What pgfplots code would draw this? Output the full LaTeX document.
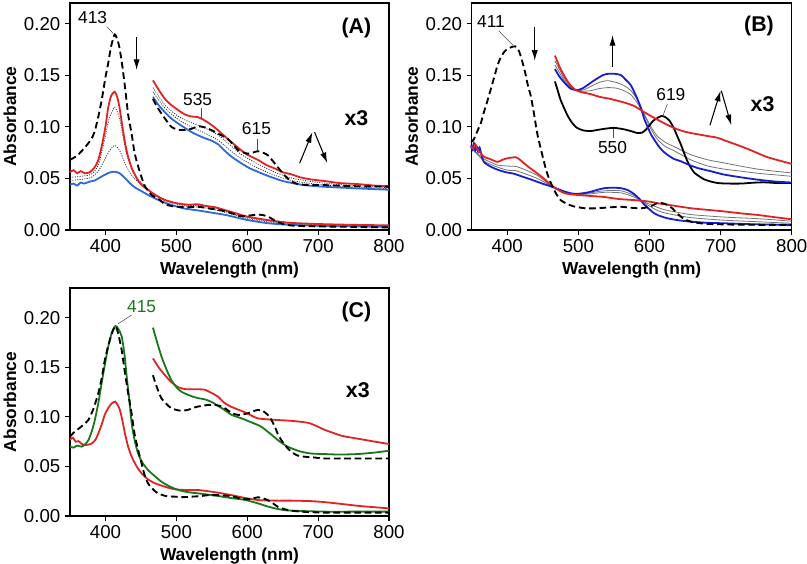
\documentclass[border=0pt]{standalone}
\usepackage{fontspec}
\setmainfont{Liberation Sans}
\usepackage{pgfplots}
\pgfplotsset{compat=1.18}
\usetikzlibrary{arrows.meta}
\definecolor{ared}{RGB}{225,35,35}
\definecolor{ablue}{RGB}{45,105,215}
\definecolor{bblue}{RGB}{25,30,205}
\definecolor{cgreen}{RGB}{25,120,25}
\newcommand{\tf}{\fontsize{13}{15}\selectfont}
\newcommand{\tkf}{\fontsize{14}{16}\selectfont}
\newcommand{\bigf}{\fontsize{16}{18}\selectfont\bfseries}
\tikzset{
  lead/.style={black!70, line width=0.4pt},
  arr/.style={-{Latex[length=8pt,width=4.6pt]}, line width=0.8pt},
}
\pgfplotsset{
  panel/.style={scale only axis, width=239.25pt, height=170.25pt,
    xmin=350, xmax=800, ymin=0, ymax=0.22,
    xtick={400,500,600,700,800}, ytick={0,0.05,0.10,0.15,0.20},
    tick align=outside, xtick pos=bottom, ytick pos=left,
    major tick length=3.75pt, axis line style={line width=0.9pt},
    tick style={line width=0.8pt, black},
    /pgf/number format/assume math mode=true,
    ticklabel style={font=\tkf},
    yticklabel style={/pgf/number format/fixed, /pgf/number format/fixed zerofill, /pgf/number format/precision=2},
    xticklabel style={/pgf/number format/1000 sep={}},
    xlabel={\tf\bfseries Wavelength (nm)}, ylabel={\tf\bfseries Absorbance},
    xlabel style={at={(axis description cs:0.5,0)}, anchor=center, yshift=-30pt},
    ylabel style={at={(axis description cs:-0.188,0.5)}, anchor=center},
    clip=false, anchor=south west},
  every axis plot/.append style={smooth, tension=0.4, no markers},
  sred/.style={ared, line width=1.35pt},
  sblue/.style={ablue, line width=1.35pt},
  sbblue/.style={bblue, line width=1.35pt},
  sgreen/.style={cgreen, line width=1.35pt},
  sdash/.style={black, line width=1.4pt, dash pattern=on 5pt off 2.8pt},
  sdot/.style={black!85, line width=0.55pt, dash pattern=on 0.8pt off 1pt},
  sgray/.style={black!55, line width=0.6pt},
}
\begin{document}
\begin{tikzpicture}
\path[use as bounding box] (0,0) rectangle (605.25pt,423pt);
% ---------------- (A)
\begin{axis}[panel, at={(52.5pt,250.5pt)}]
\addplot[sdot] coordinates {(350,0.051)(365,0.052)(380,0.054)(390,0.063)(398,0.085)(405,0.107)(413,0.119)(420,0.108)(425,0.090)(430,0.073)(437,0.060)(445,0.050)(455,0.043)(465,0.037)(480,0.031)(495,0.027)(515,0.024)(535,0.0235)(555,0.021)(575,0.017)(600,0.012)(630,0.0088)(660,0.0065)(700,0.0052)(800,0.004)};
\addplot[sdot] coordinates {(350,0.048)(365,0.049)(380,0.051)(390,0.057)(398,0.067)(405,0.076)(413,0.082)(420,0.077)(425,0.069)(430,0.061)(437,0.053)(445,0.047)(455,0.041)(465,0.036)(480,0.030)(495,0.026)(515,0.023)(535,0.022)(555,0.0195)(575,0.016)(600,0.011)(630,0.0078)(660,0.0058)(700,0.0046)(800,0.0035)};
\addplot[sdot] coordinates {(467,0.138)(484,0.121)(503,0.110)(521,0.104)(540,0.099)(559,0.092)(578,0.081)(592,0.073)(615,0.064)(639,0.056)(662,0.0505)(690,0.047)(730,0.044)(800,0.041)};
\addplot[sdot] coordinates {(467,0.134)(484,0.118)(503,0.107)(521,0.100)(540,0.094)(559,0.087)(578,0.076)(592,0.069)(615,0.060)(639,0.053)(662,0.048)(690,0.045)(730,0.0425)(800,0.040)};
\addplot[sblue] coordinates {(350,0.044)(355,0.045)(360,0.043)(365,0.046)(370,0.045)(378,0.047)(385,0.048)(395,0.052)(405,0.0555)(413,0.0565)(420,0.055)(428,0.050)(435,0.045)(442,0.041)(450,0.038)(460,0.034)(475,0.029)(490,0.025)(510,0.021)(530,0.019)(550,0.0168)(570,0.0145)(600,0.0097)(630,0.0065)(660,0.005)(700,0.004)(750,0.0035)(800,0.003)};
\addplot[sblue] coordinates {(467,0.129)(475,0.121)(484,0.114)(493,0.108)(503,0.103)(512,0.099)(521,0.095)(530,0.092)(540,0.089)(550,0.0865)(559,0.083)(568,0.077)(578,0.071)(592,0.0645)(603,0.060)(615,0.0564)(627,0.053)(639,0.050)(650,0.0475)(662,0.0457)(680,0.0435)(709,0.0419)(756,0.0403)(800,0.039)};
\addplot[sred] coordinates {(350,0.056)(355,0.058)(360,0.055)(365,0.057)(371,0.055)(378,0.056)(385,0.061)(390,0.068)(395,0.082)(400,0.100)(404,0.119)(408,0.130)(413,0.134)(417,0.128)(420,0.118)(424,0.100)(428,0.083)(432,0.071)(437,0.060)(442,0.053)(446,0.048)(452,0.043)(460,0.039)(470,0.034)(484,0.029)(500,0.026)(517,0.0245)(530,0.025)(540,0.0235)(555,0.022)(570,0.019)(585,0.016)(600,0.013)(630,0.0095)(660,0.007)(700,0.0058)(750,0.005)(800,0.0045)};
\addplot[sred] coordinates {(467,0.145)(475,0.136)(484,0.127)(493,0.121)(503,0.116)(512,0.112)(521,0.110)(530,0.1095)(538,0.107)(545,0.104)(553,0.100)(560,0.096)(568,0.091)(578,0.085)(585,0.081)(592,0.077)(600,0.073)(615,0.068)(627,0.063)(639,0.0596)(650,0.056)(662,0.054)(675,0.051)(690,0.049)(709,0.0475)(730,0.0455)(756,0.0445)(780,0.043)(800,0.0425)};
\addplot[sdash] coordinates {(350,0.068)(360,0.072)(371,0.080)(380,0.088)(385,0.096)(390,0.110)(395,0.127)(400,0.148)(404,0.162)(408,0.178)(413,0.1895)(417,0.184)(420,0.176)(424,0.158)(428,0.136)(432,0.112)(437,0.093)(441,0.075)(446,0.062)(451,0.051)(456,0.042)(465,0.034)(475,0.030)(484,0.025)(495,0.023)(503,0.0225)(515,0.022)(531,0.0225)(545,0.021)(560,0.0195)(575,0.017)(590,0.0135)(603,0.014)(612,0.0148)(622,0.0145)(632,0.012)(642,0.008)(655,0.005)(670,0.004)(700,0.0035)(750,0.003)(800,0.0025)};
\addplot[sdash] coordinates {(467,0.127)(474,0.118)(484,0.108)(493,0.100)(503,0.097)(512,0.097)(521,0.098)(531,0.1005)(540,0.0995)(549,0.097)(560,0.093)(572,0.0885)(580,0.083)(587,0.0775)(595,0.075)(601,0.074)(608,0.075)(615,0.0764)(622,0.075)(629,0.0725)(636,0.067)(643,0.061)(650,0.055)(657,0.050)(667,0.0455)(680,0.0438)(709,0.0435)(750,0.0425)(800,0.042)};
\node[font=\tf] at (axis cs:382,0.206) {413};
\draw[lead] (axis cs:402,0.197) -- (axis cs:411,0.1905);
\draw[arr] (axis cs:444,0.187) -- (axis cs:444,0.155);
\node[font=\tf] at (axis cs:530,0.126) {535};
\draw[lead] (axis cs:535,0.118) -- (axis cs:535,0.109);
\node[font=\tf] at (axis cs:613,0.0985) {615};
\draw[lead] (axis cs:614,0.088) -- (axis cs:614,0.077);
\draw[arr] (axis cs:674,0.0648) -- (axis cs:692,0.0948);
\draw[arr] (axis cs:695,0.0948) -- (axis cs:713,0.0648);
\node[font=\bigf] at (axis cs:754,0.108) {x3};
\node[font=\bigf] at (axis cs:754,0.196) {(A)};
\end{axis}
% ---------------- (B)
\begin{axis}[panel, at={(353.8pt,250.5pt)}, width=240pt]
\addplot[sgray] coordinates {(349,0.080)(367,0.069)(386,0.063)(400,0.062)(412,0.0615)(423,0.059)(442,0.053)(461,0.0435)(480,0.0366)(498,0.0345)(517,0.035)(536,0.0365)(560,0.036)(578,0.032)(593,0.027)(611,0.022)(625,0.019)(658,0.015)(705,0.0125)(752,0.011)(800,0.0085)};
\addplot[sgray] coordinates {(349,0.080)(367,0.067)(386,0.061)(400,0.058)(412,0.0575)(423,0.055)(442,0.050)(461,0.043)(480,0.037)(498,0.0345)(517,0.036)(536,0.038)(560,0.038)(578,0.0335)(593,0.026)(611,0.019)(625,0.016)(658,0.012)(705,0.0095)(752,0.008)(800,0.0065)};
\addplot[sgray] coordinates {(467,0.164)(480,0.147)(489,0.139)(498,0.135)(508,0.136)(517,0.139)(529,0.143)(541,0.1447)(553,0.143)(564,0.140)(574,0.135)(583,0.126)(593,0.112)(602,0.100)(611,0.091)(622,0.085)(634,0.081)(658,0.073)(682,0.068)(705,0.065)(729,0.0618)(752,0.059)(776,0.057)(800,0.0553)};
\addplot[sgray] coordinates {(467,0.160)(480,0.145)(489,0.138)(498,0.135)(508,0.1345)(517,0.135)(529,0.137)(541,0.138)(553,0.1375)(564,0.135)(574,0.131)(583,0.123)(593,0.111)(602,0.098)(611,0.088)(622,0.081)(634,0.077)(658,0.068)(682,0.062)(705,0.059)(729,0.057)(752,0.055)(776,0.0535)(800,0.052)};
\addplot[black, line width=1.35pt] coordinates {(467,0.144)(471,0.135)(475,0.126)(480,0.118)(485,0.1106)(491,0.104)(498,0.099)(507,0.0965)(517,0.0959)(527,0.097)(536,0.098)(550,0.099)(564,0.0976)(573,0.096)(583,0.094)(590,0.0945)(596,0.098)(605,0.1057)(612,0.109)(617,0.1105)(622,0.1095)(628,0.106)(634,0.099)(639,0.091)(644,0.083)(649,0.074)(653,0.067)(658,0.0605)(663,0.0555)(670,0.052)(677,0.049)(686,0.047)(696,0.0455)(710,0.045)(729,0.045)(745,0.0458)(761,0.0462)(780,0.0455)(800,0.0455)};
\addplot[sbblue] coordinates {(349,0.082)(351,0.078)(353,0.084)(355,0.077)(357,0.081)(359,0.076)(361,0.080)(364,0.072)(367,0.066)(375,0.062)(386,0.0585)(398,0.056)(409,0.0546)(420,0.052)(433,0.049)(447,0.0455)(461,0.0423)(470,0.040)(480,0.0374)(490,0.0355)(498,0.035)(508,0.0358)(517,0.037)(527,0.039)(536,0.0405)(548,0.041)(560,0.0405)(570,0.0385)(578,0.035)(586,0.030)(593,0.0244)(600,0.020)(607,0.016)(615,0.0135)(625,0.0114)(640,0.0095)(658,0.0081)(680,0.007)(705,0.0065)(750,0.0055)(800,0.0049)};
\addplot[sbblue] coordinates {(467,0.156)(473,0.149)(480,0.143)(489,0.137)(498,0.1355)(505,0.137)(512,0.140)(520,0.144)(527,0.147)(534,0.150)(541,0.1513)(550,0.1515)(560,0.150)(566,0.146)(574,0.140)(583,0.127)(588,0.118)(593,0.107)(598,0.099)(602,0.0927)(611,0.083)(618,0.077)(625,0.073)(634,0.069)(644,0.0666)(656,0.063)(668,0.060)(686,0.057)(705,0.0537)(729,0.051)(752,0.0488)(776,0.047)(800,0.046)};
\addplot[sred] coordinates {(349,0.081)(352,0.079)(355,0.083)(358,0.078)(362,0.075)(367,0.071)(375,0.069)(386,0.066)(393,0.068)(400,0.0695)(412,0.0705)(418,0.068)(423,0.065)(432,0.060)(442,0.055)(452,0.0495)(461,0.044)(470,0.0395)(480,0.0358)(490,0.0345)(498,0.034)(517,0.033)(536,0.032)(557,0.030)(578,0.029)(600,0.0275)(611,0.026)(635,0.0235)(658,0.0211)(682,0.0195)(705,0.018)(730,0.016)(752,0.0146)(775,0.0125)(800,0.0104)};
\addplot[sred] coordinates {(467,0.169)(473,0.159)(480,0.1496)(489,0.140)(498,0.135)(508,0.133)(517,0.1317)(530,0.129)(545,0.127)(564,0.1236)(578,0.1203)(593,0.114)(611,0.107)(622,0.103)(634,0.099)(646,0.096)(658,0.094)(670,0.0925)(682,0.091)(695,0.0895)(705,0.087)(717,0.084)(729,0.081)(740,0.078)(752,0.0745)(764,0.071)(776,0.0685)(787,0.0665)(800,0.064)};
\addplot[sdash] coordinates {(349,0.085)(353,0.088)(358,0.096)(363,0.104)(367,0.114)(372,0.125)(377,0.137)(382,0.149)(386,0.159)(390,0.166)(395,0.172)(400,0.1755)(405,0.177)(411,0.178)(416,0.174)(420,0.166)(425,0.153)(429,0.140)(433,0.130)(437,0.115)(442,0.094)(447,0.079)(452,0.065)(456,0.055)(461,0.046)(468,0.036)(475,0.029)(485,0.025)(494,0.0228)(510,0.021)(527,0.0211)(545,0.022)(560,0.0225)(575,0.0215)(588,0.021)(600,0.0225)(611,0.026)(618,0.026)(625,0.0244)(632,0.021)(639,0.016)(648,0.011)(658,0.0081)(672,0.0065)(686,0.0058)(720,0.0052)(760,0.005)(800,0.005)};
\node[font=\tf] at (axis cs:377,0.2017) {411};
\draw[lead] (axis cs:388,0.193) -- (axis cs:408,0.179);
\draw[arr] (axis cs:438.6,0.197) -- (axis cs:438.6,0.164);
\draw[arr] (axis cs:548,0.158) -- (axis cs:548,0.189);
\node[font=\tf] at (axis cs:548,0.080) {550};
\draw[lead] (axis cs:549,0.0975) -- (axis cs:549,0.089);
\node[font=\tf] at (axis cs:630,0.1317) {619};
\draw[lead] (axis cs:625,0.122) -- (axis cs:619,0.111);
\draw[arr] (axis cs:685,0.1015) -- (axis cs:700,0.135);
\draw[arr] (axis cs:701,0.135) -- (axis cs:715,0.1015);
\node[font=\bigf] at (axis cs:759,0.122) {x3};
\node[font=\bigf] at (axis cs:754,0.198) {(B)};
\end{axis}
% ---------------- (C)
\begin{axis}[panel, at={(52.5pt,36pt)}, height=171pt, ymax=0.23]
\addplot[sred] coordinates {(350,0.077)(354,0.079)(358,0.075)(362,0.0755)(366,0.073)(371,0.0716)(376,0.072)(381,0.0733)(386,0.077)(390,0.0834)(395,0.093)(399,0.102)(404,0.109)(409,0.1137)(414,0.1153)(418,0.111)(420.4,0.107)(424,0.096)(427.5,0.0834)(432,0.070)(437,0.0598)(444,0.050)(451,0.043)(460,0.037)(470,0.033)(484,0.0295)(498,0.0269)(515,0.0262)(531,0.0262)(545,0.025)(559,0.0235)(578,0.021)(595,0.0185)(615,0.0161)(640,0.0155)(662,0.0155)(690,0.015)(709,0.014)(735,0.012)(760,0.010)(800,0.0077)};
\addplot[sred] coordinates {(467,0.159)(475,0.150)(484,0.142)(493,0.135)(503,0.1298)(512,0.128)(521,0.1278)(530,0.1278)(540,0.1274)(550,0.124)(559,0.1203)(568,0.114)(578,0.110)(592,0.106)(600,0.1035)(615,0.0985)(639,0.097)(662,0.096)(686,0.094)(700,0.090)(709,0.087)(733,0.081)(756,0.078)(780,0.075)(800,0.0726)};
\addplot[sgreen] coordinates {(350,0.070)(355,0.069)(360,0.071)(366,0.070)(371,0.072)(376,0.0766)(381,0.086)(385,0.0968)(390,0.114)(394.6,0.134)(399,0.152)(404,0.171)(409,0.185)(414,0.1917)(418,0.189)(423,0.181)(427,0.162)(430,0.1405)(434,0.115)(437,0.0935)(441,0.077)(446,0.0632)(452,0.054)(460,0.0464)(470,0.040)(479,0.0346)(490,0.030)(503,0.0262)(517,0.024)(531,0.0228)(545,0.0215)(559,0.0202)(578,0.018)(595,0.0165)(615,0.0128)(627,0.010)(639,0.0077)(650,0.0062)(662,0.0054)(709,0.0044)(750,0.0044)(800,0.0044)};
\addplot[sgreen] coordinates {(467,0.190)(473,0.175)(479,0.161)(486,0.148)(493,0.137)(500,0.130)(507,0.1254)(514,0.123)(521,0.121)(530,0.119)(540,0.1177)(550,0.115)(559,0.111)(568,0.107)(578,0.102)(592,0.0985)(604,0.095)(615,0.0918)(622,0.089)(629,0.085)(636,0.081)(643,0.0767)(650,0.073)(657,0.070)(667,0.067)(676,0.0649)(690,0.063)(709,0.0625)(730,0.062)(756,0.0625)(780,0.064)(800,0.0659)};
\addplot[sdash] coordinates {(350,0.080)(355,0.084)(362,0.088)(369,0.092)(376,0.097)(383,0.108)(390,0.124)(395,0.140)(399,0.157)(404,0.172)(409,0.184)(414,0.1917)(418,0.184)(423,0.167)(427,0.147)(432,0.124)(437,0.103)(441,0.083)(446,0.067)(451,0.053)(455,0.042)(460,0.033)(467,0.027)(474,0.0229)(486,0.020)(498,0.0195)(510,0.019)(521,0.0195)(533,0.020)(545,0.021)(560,0.021)(578,0.020)(595,0.017)(607,0.0175)(615,0.0189)(622,0.018)(629,0.016)(636,0.013)(643,0.0094)(652,0.007)(662,0.0054)(680,0.0042)(709,0.0034)(750,0.0034)(800,0.0034)};
\addplot[sdash] coordinates {(467,0.142)(473,0.129)(479,0.1187)(486,0.113)(493,0.1086)(500,0.107)(507,0.1062)(516,0.107)(526,0.1096)(535,0.111)(545,0.112)(555,0.112)(564,0.1105)(570,0.108)(578,0.104)(587,0.102)(594,0.1025)(601,0.1036)(608,0.1055)(615,0.107)(622,0.106)(629,0.102)(634,0.097)(639,0.090)(643,0.083)(648,0.0767)(655,0.070)(662,0.0649)(671,0.061)(681,0.0598)(695,0.059)(709,0.058)(750,0.058)(800,0.058)};
\node[font=\tf, text=cgreen] at (axis cs:451,0.211) {415};
\draw[lead] (axis cs:437,0.2027) -- (axis cs:418,0.194);
\node[font=\bigf] at (axis cs:756,0.127) {x3};
\node[font=\bigf] at (axis cs:754,0.206) {(C)};
\end{axis}
\end{tikzpicture}
\end{document}
